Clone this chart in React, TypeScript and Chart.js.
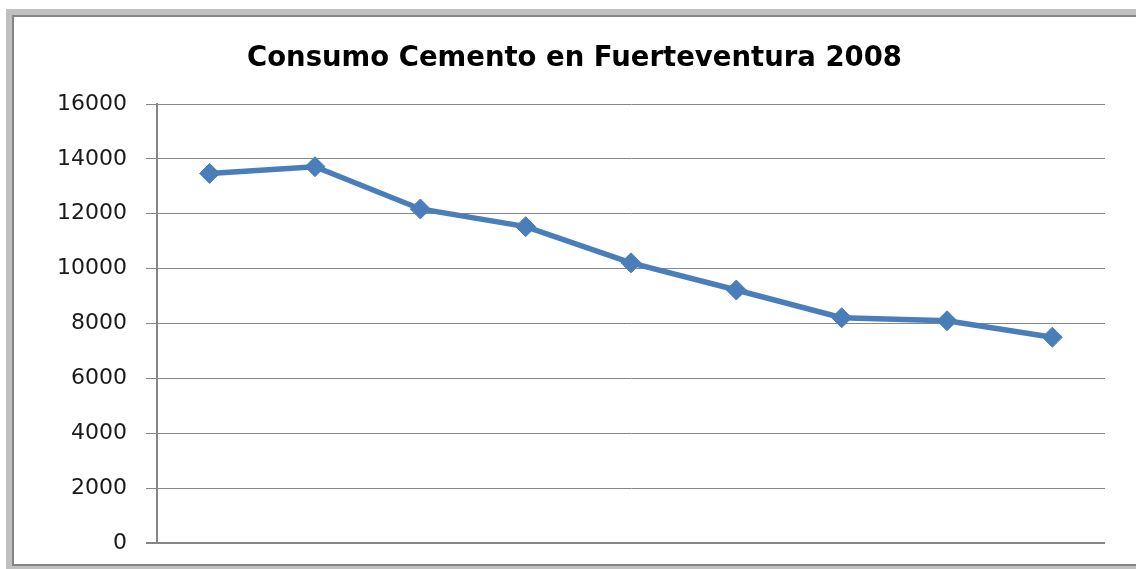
import React, { useEffect, useRef } from "react";
import { Chart, registerables } from "chart.js";

Chart.register(...registerables);

const categories = ["Ene", "Feb", "Mar", "Abr", "May", "Jun", "Jul", "Ago", "Sep"];
const consumo = [13470, 13715, 12175, 11530, 10210, 9220, 8210, 8100, 7500];
const yTicks = [0, 2000, 4000, 6000, 8000, 10000, 12000, 14000, 16000];
const titleText = "Consumo Cemento en Fuerteventura 2008";

export default function App() {
  const ref = useRef<HTMLCanvasElement | null>(null);

  useEffect(() => {
    if (!ref.current) return;
    const chart = new Chart(ref.current, {
      type: "line",
      data: {
        labels: categories,
        datasets: [
          {
            label: "Consumo",
            data: consumo,
            borderColor: "#4a7ebb",
            backgroundColor: "#4a7ebb",
            borderWidth: 5.5,
            pointStyle: "rectRot",
            pointRadius: 10,
            pointBackgroundColor: "#4a7ebb",
            pointBorderColor: "#4a7ebb",
            pointBorderWidth: 1,
            tension: 0,
          },
        ],
      },
      options: {
        responsive: false,
        animation: false,
        layout: { padding: { left: 44, right: 31, top: 0, bottom: 26 } },
        plugins: {
          legend: { display: false },
          tooltip: { enabled: false },
          title: {
            display: true,
            text: titleText,
            color: "#000",
            font: { family: "DejaVu Sans", size: 27.5, weight: "bold", lineHeight: 1.2 },
            padding: { top: 42, bottom: 29 },
          },
        },
        scales: {
          x: {
            type: "category",
            offset: true,
            display: false,
          },
          y: {
            min: 0,
            max: 16000,
            afterFit: (scale: any) => {
              scale.width = 113;
              scale.paddingTop = 0;
              scale.paddingBottom = 0;
            },
            afterBuildTicks: (scale: any) => {
              scale.ticks = yTicks.map((v) => ({ value: v }));
            },
            border: { display: true, color: "#868686", width: 2 },
            grid: {
              color: "#868686",
              lineWidth: (ctx: any) => (ctx.tick && ctx.tick.value === 0 ? 2 : 1),
              tickLength: 11,
              drawTicks: true,
            },
            ticks: {
              padding: 19,
              color: "#1a1a1a",
              font: { family: "DejaVu Sans", size: 22 },
              callback: (v: any) => String(v),
            },
          },
        },
      },
    });
    return () => chart.destroy();
  }, []);

  return (
    <div
      style={{
        position: "fixed",
        left: 0,
        top: 0,
        width: 1136,
        height: 569,
        overflow: "hidden",
        background: "#fff",
      }}
    >
      <div
        style={{
          position: "absolute",
          left: 6,
          top: 9,
          width: 1140,
          height: 560,
          boxSizing: "border-box",
          borderStyle: "solid",
          borderColor: "#c0c0c0",
          borderWidth: "6px 6px 3px 6px",
        }}
      >
        <div
          style={{
            position: "absolute",
            left: 0,
            top: 0,
            right: 0,
            bottom: 0,
            border: "2px solid #858585",
          }}
        />
      </div>
      <canvas
        ref={ref}
        width={1136}
        height={569}
        style={{ position: "absolute", left: 0, top: 0 }}
      />
    </div>
  );
}
